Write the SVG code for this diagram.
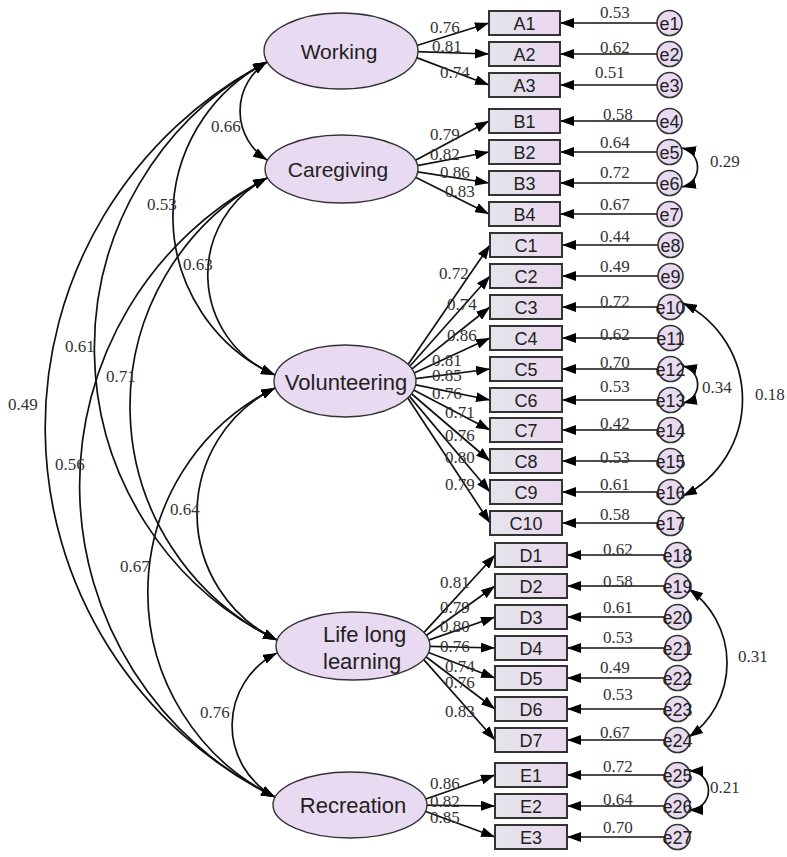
<svg xmlns="http://www.w3.org/2000/svg" width="787" height="857" viewBox="0 0 787 857">
<defs>
<marker id="ah" viewBox="0 0 14 10" refX="14" refY="5" markerWidth="14" markerHeight="10" markerUnits="userSpaceOnUse" orient="auto-start-reverse"><path d="M0,0 L14,5 L0,10 z" fill="#000"/></marker>
<linearGradient id="bx" x1="0" y1="0" x2="1" y2="0"><stop offset="0" stop-color="#e3e5ea"/><stop offset="1" stop-color="#ebd7ef"/></linearGradient>
</defs>
<style>
.c{fill:none;stroke:#111;stroke-width:1.7}
.a{marker-end:url(#ah)}
.d{marker-start:url(#ah);marker-end:url(#ah)}
.lat{fill:#e8daf0;stroke:#333;stroke-width:1.4}
.box{fill:url(#bx);stroke:#333;stroke-width:2}
.err{fill:#e8daf0;stroke:#333;stroke-width:1.6}
.lt{font-family:"Liberation Sans",Arial,sans-serif;font-size:21px;fill:#222;text-anchor:middle}
.bt{font-family:"Liberation Sans",Arial,sans-serif;font-size:18px;fill:#222;text-anchor:middle}
.et{font-family:"Liberation Sans",Arial,sans-serif;font-size:18px;fill:#222;text-anchor:middle}
.n{font-family:"Liberation Serif","Times New Roman",serif;font-size:17px;fill:#333}
</style>
<rect width="787" height="857" fill="#fff"/>
<g id="connectors">
<path class="c d" d="M267,62 A58,58 0 0 0 267,160"/>
<path class="c d" d="M267,62 A174,174 0 0 0 275,375"/>
<path class="c d" d="M267,62 A324,324 0 0 0 277,640"/>
<path class="c d" d="M267,62 A412,412 0 0 0 275,797"/>
<path class="c d" d="M267,178 A108.5,108.5 0 0 0 275,375"/>
<path class="c d" d="M267,178 A259,259 0 0 0 277,640"/>
<path class="c d" d="M267,178 A346,346 0 0 0 275,797"/>
<path class="c d" d="M275,388 A140,140 0 0 0 277,640"/>
<path class="c d" d="M275,388 A228,228 0 0 0 275,797"/>
<path class="c d" d="M277,653 A81,81 0 0 0 275,797"/>
<path class="c a" d="M408,48.2 L489,23"/>
<path class="c a" d="M408,51.3 L489,54"/>
<path class="c a" d="M408,54.4 L489,85"/>
<path class="c a" d="M408,164.2 L489,121"/>
<path class="c a" d="M408,167.3 L489,152"/>
<path class="c a" d="M408,170.4 L489,183"/>
<path class="c a" d="M408,173.5 L489,214"/>
<path class="c a" d="M406,367.4 L490,245"/>
<path class="c a" d="M406,370.5 L490,276"/>
<path class="c a" d="M406,373.6 L490,307"/>
<path class="c a" d="M406,376.7 L490,338"/>
<path class="c a" d="M406,379.8 L490,369"/>
<path class="c a" d="M406,382.9 L490,400"/>
<path class="c a" d="M406,385.9 L490,430"/>
<path class="c a" d="M406,389 L490,461"/>
<path class="c a" d="M406,392.1 L490,492"/>
<path class="c a" d="M406,395.2 L490,523"/>
<path class="c a" d="M420,636.9 L495,555"/>
<path class="c a" d="M420,640 L495,586"/>
<path class="c a" d="M420,643.1 L495,617"/>
<path class="c a" d="M420,646.2 L495,648"/>
<path class="c a" d="M420,649.2 L495,678"/>
<path class="c a" d="M420,652.3 L495,709"/>
<path class="c a" d="M420,655.4 L495,740"/>
<path class="c a" d="M417,802 L495,775"/>
<path class="c a" d="M417,805.1 L495,806"/>
<path class="c a" d="M417,808.2 L495,837"/>
<path class="c a" d="M657,23 L560,23"/>
<path class="c a" d="M657,54 L560,54"/>
<path class="c a" d="M657,85 L560,85"/>
<path class="c a" d="M657,121 L560,121"/>
<path class="c a" d="M657,152 L560,152"/>
<path class="c a" d="M657,183 L560,183"/>
<path class="c a" d="M657,214 L560,214"/>
<path class="c a" d="M658,245 L562,245"/>
<path class="c a" d="M658,276 L562,276"/>
<path class="c a" d="M658,307 L562,307"/>
<path class="c a" d="M658,338 L562,338"/>
<path class="c a" d="M658,369 L562,369"/>
<path class="c a" d="M658,400 L562,400"/>
<path class="c a" d="M658,430 L562,430"/>
<path class="c a" d="M658,461 L562,461"/>
<path class="c a" d="M658,492 L562,492"/>
<path class="c a" d="M658,523 L562,523"/>
<path class="c a" d="M665,555 L567,555"/>
<path class="c a" d="M665,586 L567,586"/>
<path class="c a" d="M665,617 L567,617"/>
<path class="c a" d="M665,648 L567,648"/>
<path class="c a" d="M665,678 L567,678"/>
<path class="c a" d="M665,709 L567,709"/>
<path class="c a" d="M665,740 L567,740"/>
<path class="c a" d="M665,775 L567,775"/>
<path class="c a" d="M665,806 L567,806"/>
<path class="c a" d="M665,837 L567,837"/>
<path class="c d" d="M682,148 A20,20 0 0 1 682,187"/>
<path class="c d" d="M683,366 A19,19 0 0 1 683,403"/>
<path class="c d" d="M683,303 A108,108 0 0 1 683,496"/>
<path class="c d" d="M689,589 A91,91 0 0 1 689,737"/>
<path class="c d" d="M689,771 A19.5,19.5 0 0 1 689,810"/>
</g>
<g id="connector-labels">
<text class="n" x="211" y="132">0.66</text>
<text class="n" x="147" y="210">0.53</text>
<text class="n" x="183" y="270">0.63</text>
<text class="n" x="65" y="352">0.61</text>
<text class="n" x="106" y="382">0.71</text>
<text class="n" x="8" y="410">0.49</text>
<text class="n" x="55" y="470">0.56</text>
<text class="n" x="170" y="515">0.64</text>
<text class="n" x="120" y="572">0.67</text>
<text class="n" x="200" y="718">0.76</text>
<text class="n" x="430" y="33">0.76</text>
<text class="n" x="432" y="52">0.81</text>
<text class="n" x="440" y="78">0.74</text>
<text class="n" x="430" y="140">0.79</text>
<text class="n" x="430" y="160">0.82</text>
<text class="n" x="440" y="178">0.86</text>
<text class="n" x="445" y="197">0.83</text>
<text class="n" x="439" y="279">0.72</text>
<text class="n" x="447" y="310">0.74</text>
<text class="n" x="447" y="341">0.86</text>
<text class="n" x="432" y="366">0.81</text>
<text class="n" x="432" y="381">0.85</text>
<text class="n" x="432" y="399">0.76</text>
<text class="n" x="445" y="418">0.71</text>
<text class="n" x="445" y="441">0.76</text>
<text class="n" x="445" y="463">0.80</text>
<text class="n" x="445" y="490">0.79</text>
<text class="n" x="440" y="588">0.81</text>
<text class="n" x="440" y="613">0.79</text>
<text class="n" x="440" y="632">0.80</text>
<text class="n" x="440" y="652">0.76</text>
<text class="n" x="445" y="672">0.74</text>
<text class="n" x="445" y="688">0.76</text>
<text class="n" x="445" y="717">0.83</text>
<text class="n" x="430" y="789">0.86</text>
<text class="n" x="430" y="807">0.82</text>
<text class="n" x="430" y="823">0.85</text>
<text class="n" x="600" y="18">0.53</text>
<text class="n" x="600" y="53">0.62</text>
<text class="n" x="595" y="78">0.51</text>
<text class="n" x="603" y="120">0.58</text>
<text class="n" x="600" y="148">0.64</text>
<text class="n" x="600" y="178">0.72</text>
<text class="n" x="600" y="210">0.67</text>
<text class="n" x="600" y="242">0.44</text>
<text class="n" x="600" y="272">0.49</text>
<text class="n" x="600" y="307">0.72</text>
<text class="n" x="600" y="340">0.62</text>
<text class="n" x="600" y="368">0.70</text>
<text class="n" x="600" y="392">0.53</text>
<text class="n" x="600" y="429">0.42</text>
<text class="n" x="600" y="463">0.53</text>
<text class="n" x="600" y="490">0.61</text>
<text class="n" x="600" y="520">0.58</text>
<text class="n" x="603" y="555">0.62</text>
<text class="n" x="603" y="587">0.58</text>
<text class="n" x="603" y="613">0.61</text>
<text class="n" x="603" y="643">0.53</text>
<text class="n" x="600" y="673">0.49</text>
<text class="n" x="603" y="700">0.53</text>
<text class="n" x="600" y="738">0.67</text>
<text class="n" x="603" y="772">0.72</text>
<text class="n" x="603" y="805">0.64</text>
<text class="n" x="603" y="833">0.70</text>
<text class="n" x="710" y="167">0.29</text>
<text class="n" x="702" y="393">0.34</text>
<text class="n" x="755" y="400">0.18</text>
<text class="n" x="738" y="662">0.31</text>
<text class="n" x="710" y="793">0.21</text>
</g>
<g id="Working"><ellipse class="lat" cx="341" cy="51" rx="77" ry="38"/><text class="lt" x="339" y="59">Working</text></g>
<g id="Caregiving"><ellipse class="lat" cx="341.5" cy="169" rx="76.5" ry="34"/><text class="lt" x="338" y="177">Caregiving</text></g>
<g id="Volunteering"><ellipse class="lat" cx="345" cy="381" rx="71" ry="36"/><text class="lt" x="346" y="390" style="font-size:22px">Volunteering</text></g>
<g id="LifeLongLearning"><ellipse class="lat" cx="353" cy="646" rx="77" ry="34"/><text class="lt" x="323" y="642" style="font-size:22px;text-anchor:start">Life long</text><text class="lt" x="323" y="669" style="font-size:22px;text-anchor:start">learning</text></g>
<g id="Recreation"><ellipse class="lat" cx="350" cy="805" rx="77" ry="33"/><text class="lt" x="353" y="813" style="font-size:22px">Recreation</text></g>
<g id="A1"><rect class="box" x="489" y="11" width="71" height="24"/><text class="bt" x="524.5" y="29.5">A1</text></g>
<g id="A2"><rect class="box" x="489" y="42" width="71" height="24"/><text class="bt" x="524.5" y="60.5">A2</text></g>
<g id="A3"><rect class="box" x="489" y="73" width="71" height="24"/><text class="bt" x="524.5" y="91.5">A3</text></g>
<g id="B1"><rect class="box" x="489" y="109" width="71" height="24"/><text class="bt" x="524.5" y="127.5">B1</text></g>
<g id="B2"><rect class="box" x="489" y="140" width="71" height="24"/><text class="bt" x="524.5" y="158.5">B2</text></g>
<g id="B3"><rect class="box" x="489" y="171" width="71" height="24"/><text class="bt" x="524.5" y="189.5">B3</text></g>
<g id="B4"><rect class="box" x="489" y="202" width="71" height="24"/><text class="bt" x="524.5" y="220.5">B4</text></g>
<g id="C1"><rect class="box" x="490" y="233" width="72" height="24"/><text class="bt" x="526" y="251.5">C1</text></g>
<g id="C2"><rect class="box" x="490" y="264" width="72" height="24"/><text class="bt" x="526" y="282.5">C2</text></g>
<g id="C3"><rect class="box" x="490" y="295" width="72" height="24"/><text class="bt" x="526" y="313.5">C3</text></g>
<g id="C4"><rect class="box" x="490" y="326" width="72" height="24"/><text class="bt" x="526" y="344.5">C4</text></g>
<g id="C5"><rect class="box" x="490" y="357" width="72" height="24"/><text class="bt" x="526" y="375.5">C5</text></g>
<g id="C6"><rect class="box" x="490" y="388" width="72" height="24"/><text class="bt" x="526" y="406.5">C6</text></g>
<g id="C7"><rect class="box" x="490" y="418" width="72" height="24"/><text class="bt" x="526" y="436.5">C7</text></g>
<g id="C8"><rect class="box" x="490" y="449" width="72" height="24"/><text class="bt" x="526" y="467.5">C8</text></g>
<g id="C9"><rect class="box" x="490" y="480" width="72" height="24"/><text class="bt" x="526" y="498.5">C9</text></g>
<g id="C10"><rect class="box" x="490" y="511" width="72" height="24"/><text class="bt" x="526" y="529.5">C10</text></g>
<g id="D1"><rect class="box" x="495" y="543" width="72" height="24"/><text class="bt" x="531" y="561.5">D1</text></g>
<g id="D2"><rect class="box" x="495" y="574" width="72" height="24"/><text class="bt" x="531" y="592.5">D2</text></g>
<g id="D3"><rect class="box" x="495" y="605" width="72" height="24"/><text class="bt" x="531" y="623.5">D3</text></g>
<g id="D4"><rect class="box" x="495" y="636" width="72" height="24"/><text class="bt" x="531" y="654.5">D4</text></g>
<g id="D5"><rect class="box" x="495" y="666" width="72" height="24"/><text class="bt" x="531" y="684.5">D5</text></g>
<g id="D6"><rect class="box" x="495" y="697" width="72" height="24"/><text class="bt" x="531" y="715.5">D6</text></g>
<g id="D7"><rect class="box" x="495" y="728" width="72" height="24"/><text class="bt" x="531" y="746.5">D7</text></g>
<g id="E1"><rect class="box" x="495" y="763" width="72" height="24"/><text class="bt" x="531" y="781.5">E1</text></g>
<g id="E2"><rect class="box" x="495" y="794" width="72" height="24"/><text class="bt" x="531" y="812.5">E2</text></g>
<g id="E3"><rect class="box" x="495" y="825" width="72" height="24"/><text class="bt" x="531" y="843.5">E3</text></g>
<g id="e1"><circle class="err" cx="669.5" cy="23" r="12.5"/><text class="et" x="669.5" y="29.5">e1</text></g>
<g id="e2"><circle class="err" cx="669.5" cy="54" r="12.5"/><text class="et" x="669.5" y="60.5">e2</text></g>
<g id="e3"><circle class="err" cx="669.5" cy="85" r="12.5"/><text class="et" x="669.5" y="91.5">e3</text></g>
<g id="e4"><circle class="err" cx="669.5" cy="121" r="12.5"/><text class="et" x="669.5" y="127.5">e4</text></g>
<g id="e5"><circle class="err" cx="669.5" cy="152" r="12.5"/><text class="et" x="669.5" y="158.5">e5</text></g>
<g id="e6"><circle class="err" cx="669.5" cy="183" r="12.5"/><text class="et" x="669.5" y="189.5">e6</text></g>
<g id="e7"><circle class="err" cx="669.5" cy="214" r="12.5"/><text class="et" x="669.5" y="220.5">e7</text></g>
<g id="e8"><circle class="err" cx="670.5" cy="245" r="12.5"/><text class="et" x="670.5" y="251.5">e8</text></g>
<g id="e9"><circle class="err" cx="670.5" cy="276" r="12.5"/><text class="et" x="670.5" y="282.5">e9</text></g>
<g id="e10"><circle class="err" cx="670.5" cy="307" r="12.5"/><text class="et" x="670.5" y="313.5">e10</text></g>
<g id="e11"><circle class="err" cx="670.5" cy="338" r="12.5"/><text class="et" x="670.5" y="344.5">e11</text></g>
<g id="e12"><circle class="err" cx="670.5" cy="369" r="12.5"/><text class="et" x="670.5" y="375.5">e12</text></g>
<g id="e13"><circle class="err" cx="670.5" cy="400" r="12.5"/><text class="et" x="670.5" y="406.5">e13</text></g>
<g id="e14"><circle class="err" cx="670.5" cy="430" r="12.5"/><text class="et" x="670.5" y="436.5">e14</text></g>
<g id="e15"><circle class="err" cx="670.5" cy="461" r="12.5"/><text class="et" x="670.5" y="467.5">e15</text></g>
<g id="e16"><circle class="err" cx="670.5" cy="492" r="12.5"/><text class="et" x="670.5" y="498.5">e16</text></g>
<g id="e17"><circle class="err" cx="670.5" cy="523" r="12.5"/><text class="et" x="670.5" y="529.5">e17</text></g>
<g id="e18"><circle class="err" cx="677.5" cy="555" r="12.5"/><text class="et" x="677.5" y="561.5">e18</text></g>
<g id="e19"><circle class="err" cx="677.5" cy="586" r="12.5"/><text class="et" x="677.5" y="592.5">e19</text></g>
<g id="e20"><circle class="err" cx="677.5" cy="617" r="12.5"/><text class="et" x="677.5" y="623.5">e20</text></g>
<g id="e21"><circle class="err" cx="677.5" cy="648" r="12.5"/><text class="et" x="677.5" y="654.5">e21</text></g>
<g id="e22"><circle class="err" cx="677.5" cy="678" r="12.5"/><text class="et" x="677.5" y="684.5">e22</text></g>
<g id="e23"><circle class="err" cx="677.5" cy="709" r="12.5"/><text class="et" x="677.5" y="715.5">e23</text></g>
<g id="e24"><circle class="err" cx="677.5" cy="740" r="12.5"/><text class="et" x="677.5" y="746.5">e24</text></g>
<g id="e25"><circle class="err" cx="677.5" cy="775" r="12.5"/><text class="et" x="677.5" y="781.5">e25</text></g>
<g id="e26"><circle class="err" cx="677.5" cy="806" r="12.5"/><text class="et" x="677.5" y="812.5">e26</text></g>
<g id="e27"><circle class="err" cx="677.5" cy="837" r="12.5"/><text class="et" x="677.5" y="843.5">e27</text></g>
</svg>
